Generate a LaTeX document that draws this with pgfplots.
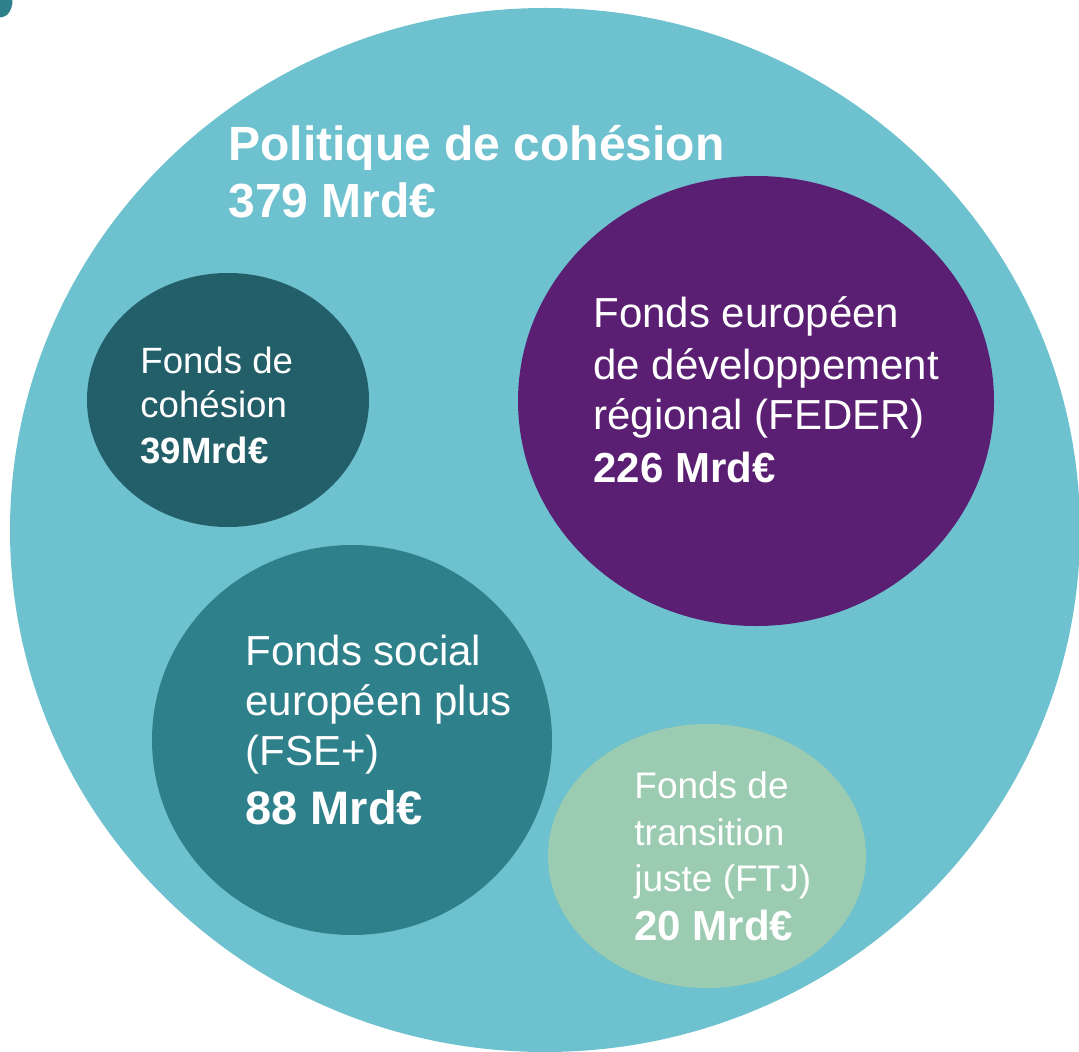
\documentclass[border=0pt]{standalone}
\usepackage{fontspec}
\setmainfont{Liberation Sans}
\usepackage{pgfplots}
\usepackage{pgfplotstable}
\pgfplotsset{compat=1.18}
\definecolor{bigc}{RGB}{110,193,206}
\definecolor{feder}{RGB}{90,31,114}
\definecolor{cohe}{RGB}{35,95,105}
\definecolor{fse}{RGB}{46,128,139}
\definecolor{ftj}{RGB}{155,203,176}

% bubbles: centre (x,y) and radii (rx,ry), in pixels of a 1079x1051 frame (y upwards)
\pgfplotstableread{
x y rx ry
0.5 1050.5 12 17
}\cornertbl
\pgfplotstableread{
x y rx ry
545 521 535 522
}\bigtbl
\pgfplotstableread{
x y rx ry
228 651 141 127
}\cohtbl
\pgfplotstableread{
x y rx ry
756 650 238 225
}\federtbl
\pgfplotstableread{
x y rx ry
352 311 200 195
}\fsetbl
\pgfplotstableread{
x y rx ry
707 195 159 132
}\ftjtbl

\pgfplotsset{
  bubble/.style={
    scatter, only marks, mark=*, mark size=0pt,
    visualization depends on={0.5*\thisrow{rx} \as \rx},
    visualization depends on={0.5*\thisrow{ry} \as \ry},
    scatter/@pre marker code/.code={%
      \pgfscope
      \pgfsetfillcolor{#1}%
      \pgfpathellipse{\pgfpointorigin}{\pgfqpoint{\rx pt}{0pt}}{\pgfqpoint{0pt}{\ry pt}}%
      \pgfusepath{fill}%
    },
    scatter/@post marker code/.code={\endpgfscope},
  },
}
\tikzset{lbl/.style={anchor=base west, inner sep=0pt, text=white}}

\begin{document}
\begin{tikzpicture}
\begin{axis}[
  scale only axis, width=539.5pt, height=525.5pt,
  xmin=0, xmax=1079, ymin=0, ymax=1051,
  axis line style={draw=none}, xtick=\empty, ytick=\empty,
  clip=true, clip marker paths=true,
]
\addplot[bubble=fse] table[x=x,y=y] {\cornertbl};
\addplot[bubble=bigc] table[x=x,y=y] {\bigtbl};
\addplot[bubble=cohe] table[x=x,y=y] {\cohtbl};
\addplot[bubble=feder] table[x=x,y=y] {\federtbl};
\addplot[bubble=fse] table[x=x,y=y] {\fsetbl};
\addplot[bubble=ftj] table[x=x,y=y] {\ftjtbl};

% Politique de cohésion
\node[lbl, font=\fontsize{24}{28}\selectfont\bfseries] at (axis cs:228,890) {Politique de cohésion};
\node[lbl, font=\fontsize{24}{28}\selectfont\bfseries] at (axis cs:228,833) {379 Mrd€};
% Fonds de cohésion
\node[lbl, font=\fontsize{18.3}{22}\selectfont] at (axis cs:140,678) {Fonds de};
\node[lbl, font=\fontsize{18.3}{22}\selectfont] at (axis cs:140,634) {cohésion};
\node[lbl, font=\fontsize{18.3}{22}\selectfont\bfseries] at (axis cs:140,588) {39Mrd€};
% FEDER
\node[lbl, font=\fontsize{21}{25}\selectfont] at (axis cs:593,724) {Fonds européen};
\node[lbl, font=\fontsize{21}{25}\selectfont] at (axis cs:593,672) {de développement};
\node[lbl, font=\fontsize{21}{25}\selectfont] at (axis cs:593,622) {régional (FEDER)};
\node[lbl, font=\fontsize{21}{25}\selectfont\bfseries] at (axis cs:593,569) {226 Mrd€};
% FSE+
\node[lbl, font=\fontsize{21}{25}\selectfont] at (axis cs:245,386) {Fonds social};
\node[lbl, font=\fontsize{21}{25}\selectfont] at (axis cs:245,336) {européen plus};
\node[lbl, font=\fontsize{21}{25}\selectfont] at (axis cs:245,286) {(FSE+)};
\node[lbl, font=\fontsize{23.5}{28}\selectfont\bfseries] at (axis cs:245,227) {88 Mrd€};
% FTJ
\node[lbl, font=\fontsize{18.5}{22}\selectfont] at (axis cs:634,253) {Fonds de};
\node[lbl, font=\fontsize{18.5}{22}\selectfont] at (axis cs:634,206) {transition};
\node[lbl, font=\fontsize{18.5}{22}\selectfont] at (axis cs:634,160) {juste (FTJ)};
\node[lbl, font=\fontsize{21}{25}\selectfont\bfseries] at (axis cs:634,111) {20 Mrd€};
\end{axis}
\end{tikzpicture}
\end{document}
